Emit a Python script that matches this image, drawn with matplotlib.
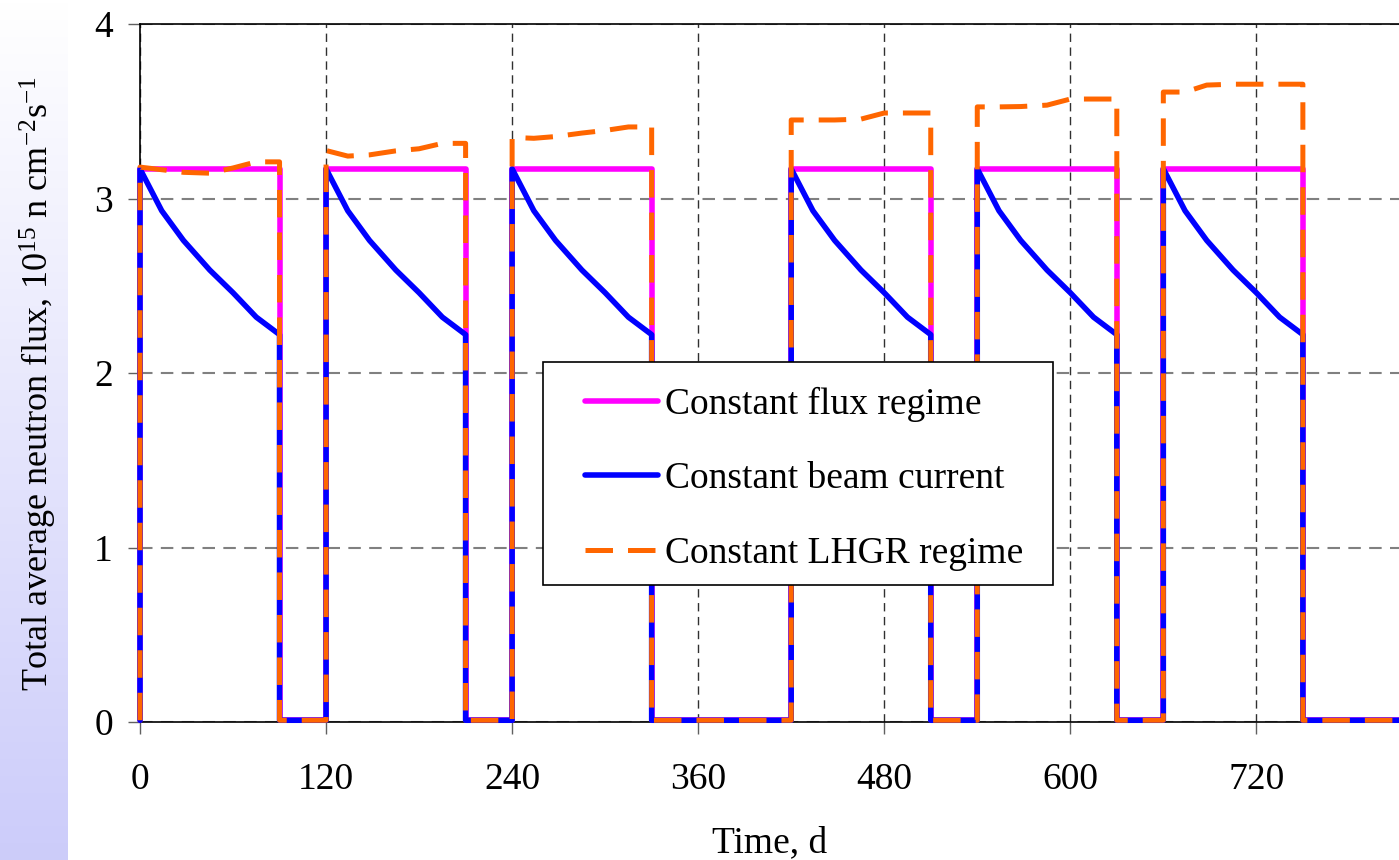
import numpy as np
import matplotlib
matplotlib.use('Agg')
import matplotlib.pyplot as plt
import matplotlib.patches as mpatches

plt.rcParams['font.family'] = 'Liberation Serif'
plt.rcParams['mathtext.fontset'] = 'custom'
plt.rcParams['mathtext.rm'] = 'Liberation Serif'
plt.rcParams['mathtext.it'] = 'Liberation Serif:italic'
font_size = 27
## -------------------------------------------------------------------------- ##
# irradiation cycles (90 d on, then shutdown) and flux levels, 1e15 n/cm2/s
cycle_start = [0, 120, 240, 420, 540, 660]
cycle_length = 90
end_time = 812
step_day = [0, 14, 28, 45, 60, 75, 90]
flux_off = 0.01
flux_const = 3.17
flux_beam = [3.17, 2.93, 2.76, 2.59, 2.46, 2.32, 2.22]
flux_lhgr = [
    [3.18, 3.165, 3.15, 3.145, 3.175, 3.21, 3.21],
    [3.275, 3.243, 3.25, 3.273, 3.285, 3.316, 3.316],
    [3.35, 3.345, 3.355, 3.375, 3.39, 3.41, 3.41],
    [3.45, 3.45, 3.45, 3.455, 3.49, 3.49, 3.49],
    [3.525, 3.525, 3.527, 3.535, 3.57, 3.57, 3.57],
    [3.61, 3.61, 3.65, 3.655, 3.655, 3.655, 3.655],
]
## -------------------------------------------------------------------------- ##
def history(levels):
    # levels: one list of values per cycle, taken at step_day
    t, f = [], []
    for start, vals in zip(cycle_start, levels):
        t.append(start)
        f.append(flux_off)
        t.extend(start + np.array(step_day))
        f.extend(vals)
        t.append(start + cycle_length)
        f.append(flux_off)
    t.append(end_time)
    f.append(flux_off)
    return np.array(t), np.array(f)

t_const, f_const = history([[flux_const] * len(step_day)] * len(cycle_start))
t_beam, f_beam = history([flux_beam] * len(cycle_start))
t_lhgr, f_lhgr = history(flux_lhgr)
## -------------------------------------------------------------------------- ##
W, H = 1399., 860.
fig = plt.figure(figsize=(W / 100, H / 100), dpi=100)

# shaded strip on the left side
strip = fig.add_axes([0, 0, 68 / W, 1])
grad = np.linspace(0, 1, 256).reshape(-1, 1)
top = np.array([1.0, 1.0, 1.0])
bot = np.array([0.80, 0.80, 0.98])
img = top + (bot - top) * grad[:, :, None]
strip.imshow(img, aspect='auto', extent=[0, 1, 0, 1], origin='upper')
strip.set_axis_off()

ax = fig.add_axes([140 / W, 138 / H, 1259 / W, 698 / H])

ax.plot(t_const, f_const, color='#ff00ff', lw=4.0, zorder=3, clip_on=False,
        solid_capstyle='round', label='Constant flux regime')
ax.plot(t_beam, f_beam, color='#0000ff', lw=4.0, zorder=4, clip_on=False,
        solid_capstyle='round', label='Constant beam current')
ax.plot(t_lhgr, f_lhgr, color='#ff6600', lw=3.6, zorder=5, clip_on=False,
        dashes=(5.5, 3.0), dash_capstyle='butt', label='Constant LHGR regime')

ax.set_xlim(0, end_time)
ax.set_ylim(0, 4)
ax.set_xticks(np.arange(0, 721, 120))
ax.set_yticks([0, 1, 2, 3, 4])

ax.grid(True, axis='y', color='#808080', ls=(0, (6, 4)), lw=1.5)
ax.grid(True, axis='x', color='#303030', ls=(0, (6, 4)), lw=1.0)
ax.set_axisbelow(True)

for s in ['left', 'bottom', 'top']:
    ax.spines[s].set_color('black')
    ax.spines[s].set_linewidth(1.2)
ax.spines['right'].set_visible(False)

ax.tick_params(axis='x', direction='out', length=8.5, width=1, color='#606060',
               pad=21, labelsize=font_size)
ax.tick_params(axis='y', direction='out', length=8.5, width=1, color='#606060',
               pad=11, labelsize=font_size)

ax.set_xlabel('Time, d', fontsize=font_size)
ax.xaxis.set_label_coords(0.5, -0.149)
ax.set_ylabel(r'Total average neutron flux, 10$^{15}$ n cm$^{-2}$s$^{-1}$',
              fontsize=26)
ax.yaxis.set_label_coords(-0.064, 0.485)

# legend box, drawn separately so the inner padding can be set freely
def ax_xy(px, py):
    return (px - 140) / 1259., (722 - py) / 698.

x0, y0 = ax_xy(543, 585)
x1, y1 = ax_xy(1053, 362)
box = mpatches.Rectangle((x0, y0), x1 - x0, y1 - y0, transform=ax.transAxes,
                         facecolor='white', edgecolor='black', lw=1.2,
                         zorder=9, clip_on=False)
ax.add_patch(box)

lx, ly = ax_xy(585, 387)
leg = ax.legend(loc='upper left', bbox_to_anchor=(lx, ly), borderaxespad=0,
                fontsize=font_size, frameon=False,
                handlelength=1.95, handletextpad=0.18, labelspacing=1.06,
                borderpad=0)
leg.set_zorder(10)

fig.savefig('out.png', dpi=100)
